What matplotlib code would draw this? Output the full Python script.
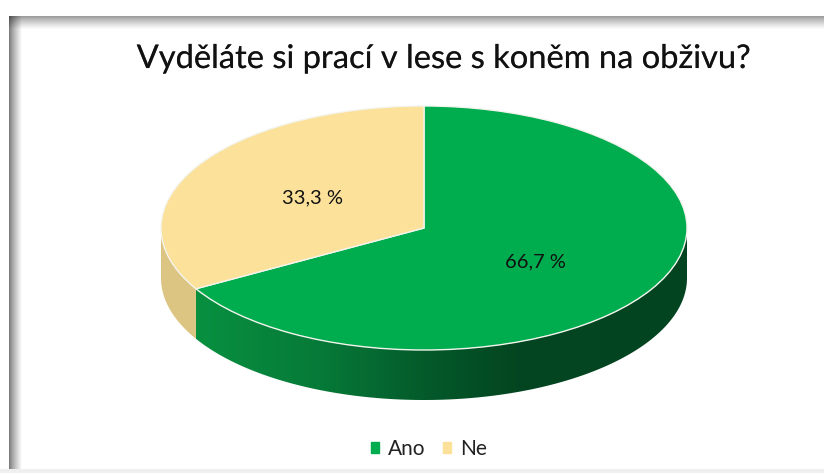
import matplotlib.pyplot as plt
import matplotlib.patheffects as pe
import numpy as np
from matplotlib.colors import LinearSegmentedColormap
from matplotlib.patches import Patch, Polygon

categories = ["Ano", "Ne"]
values = [66.7, 33.3]
colors = ["#00AD4E", "#FBE199"]
title = "Vyděláte si prací v lese s koněm na obživu?"

W, H = 824, 473
plt.rcParams["font.family"] = ["Lato", "DejaVu Sans"]
fig = plt.figure(figsize=(W / 100, H / 100), dpi=100, facecolor="white")

# pozadi s ramem a stinem vlevo nahore
bg = fig.add_axes([0, 0, 1, 1])
bg.axis("off")
ramp_x = np.clip((np.arange(W - 9) + 0.5) / 13, 0, 1) ** 0.8
ramp_y = np.clip((np.arange(H - 17) + 0.5) / 13, 0, 1) ** 0.8
left = 0.45 + 0.55 * ramp_x
top = 0.58 + 0.42 * ramp_y
frame = np.outer(top, left)
bg.imshow(frame, extent=(9, W, H, 17), cmap="gray", vmin=0, vmax=1, aspect="auto", origin="upper")
bg.fill_between([0, W], 468.5, H, color="#efefef", lw=0)
bg.set_xlim(0, W)
bg.set_ylim(H, 0)

# kolac: horni plocha je elipsa, osy jsou natazene na jeji rozmery
depth = 50 / 122
ax = fig.add_axes([161 / W, 1 - 400 / H, 526 / W, 294 / H])
wedges, _, autotexts = ax.pie(
    values,
    colors=colors,
    startangle=90,
    counterclock=False,
    autopct=lambda p: f"{p:.1f} %".replace(".", ","),
    pctdistance=0.49,
    wedgeprops={"edgecolor": "#f4f4ee", "linewidth": 1.0, "zorder": 5},
    textprops={"fontsize": 14.5, "color": "#111111", "zorder": 6},
)
autotexts[0].set_y(autotexts[0].get_position()[1] - 0.03)
ax.set_aspect("auto")


# bocni stena mezi dvema uhly (matematicke uhly ve stupnich)
def wall(a1, a2):
    t = np.radians(np.linspace(a1, a2, 200))
    x = np.cos(t)
    y = np.sin(t)
    pts = np.r_[np.c_[x, y], np.c_[x[::-1], y[::-1] - depth]]
    return pts


split = 90 - 360 * values[0] / sum(values)  # hranice Ano / Ne
green = LinearSegmentedColormap.from_list(
    "green",
    [(0, "#089040"), (0.25, "#067A38"), (0.48, "#04582A"), (0.65, "#034620"), (1, "#034420")],
)
poly = Polygon(wall(split, 0), closed=True, transform=ax.transData, fc="none", ec="none")
ax.add_patch(poly)
im = ax.imshow(
    np.linspace(0, 1, 256)[None, :],
    extent=(np.cos(np.radians(split)), 1, -1 - depth, 1),
    cmap=green,
    aspect="auto",
    zorder=2,
)
im.set_clip_path(poly)
ax.add_patch(Polygon(wall(180, split % 360), closed=True, fc="#DCC583", ec="none", zorder=2))
ax.set_xlim(-1, 1)
ax.set_ylim(-1 - depth, 1)
ax.set_aspect("auto")
ax.axis("off")

fig.text(
    443.5 / W, 1 - 59 / H, title, fontsize=23.5, color="#111111", ha="center", va="center",
    path_effects=[pe.withStroke(linewidth=0.2, foreground="#999999")],
)

handles = [Patch(color=c, label=n) for c, n in zip(colors, categories)]
fig.legend(
    handles=handles,
    loc="center",
    bbox_to_anchor=(429 / W, 1 - 449 / H),
    ncol=2,
    frameon=False,
    fontsize=15,
    handlelength=0.38,
    handleheight=0.38,
    handletextpad=0.43,
    columnspacing=0.86,
    labelcolor="#222222",
)

fig.savefig("out.png", dpi=100)
